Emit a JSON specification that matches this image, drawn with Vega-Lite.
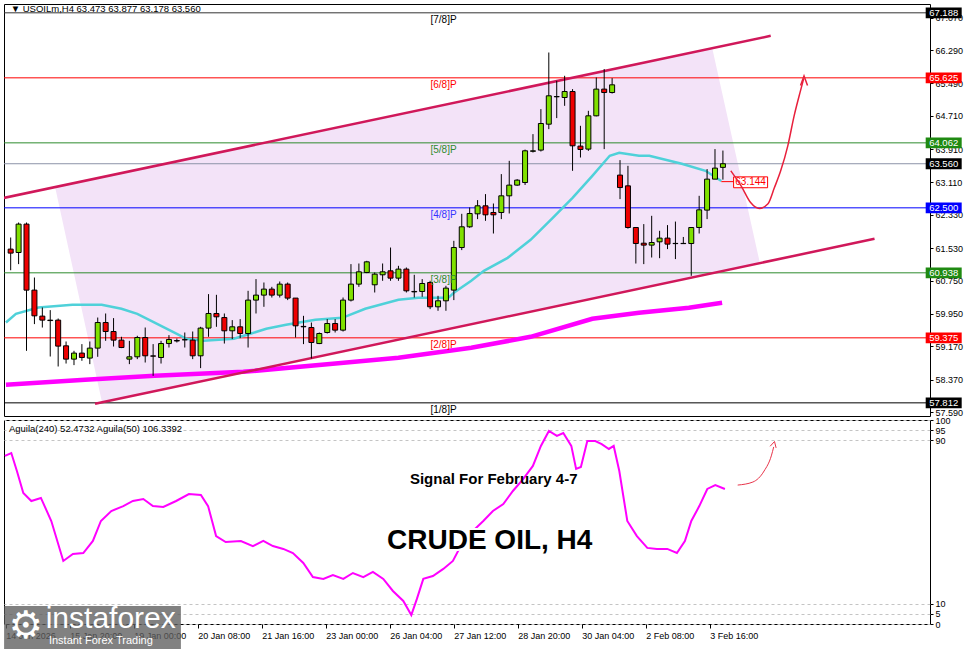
{
"$schema": "https://vega.github.io/schema/vega-lite/v6.json",
"autosize": {"type": "pad"},
"padding": {"left": 3, "top": 3, "right": 47, "bottom": 27},
"background": "#ffffff",
"spacing": 4,
"bounds": "flush",
"config": {
  "view": {"stroke": "#000000", "strokeWidth": 1},
  "axis": {"labelFont": "Liberation Sans", "labelColor": "#000000", "tickColor": "#000000", "labelFontSize": 9},
  "text": {"font": "Liberation Sans"}
},
"datasets": {
  "one": [{}],
  "candles": [
    {"i":0,"o":61.508,"h":61.787,"l":61.0,"c":61.412},
    {"i":1,"o":61.426,"h":62.147,"l":61.147,"c":62.109},
    {"i":2,"o":62.109,"h":62.147,"l":59.063,"c":60.522},
    {"i":3,"o":60.522,"h":60.825,"l":59.705,"c":59.904},
    {"i":4,"o":59.897,"h":60.104,"l":59.623,"c":59.801},
    {"i":5,"o":59.8,"h":60.041,"l":58.926,"c":59.79},
    {"i":6,"o":59.801,"h":59.84,"l":58.686,"c":59.176},
    {"i":7,"o":59.183,"h":59.287,"l":58.757,"c":58.863},
    {"i":8,"o":58.863,"h":59.063,"l":58.719,"c":59.008},
    {"i":9,"o":59.008,"h":59.224,"l":58.823,"c":58.902},
    {"i":10,"o":58.888,"h":59.287,"l":58.743,"c":59.128},
    {"i":11,"o":59.128,"h":59.863,"l":58.919,"c":59.743},
    {"i":12,"o":59.743,"h":59.96,"l":59.303,"c":59.527},
    {"i":13,"o":59.527,"h":59.849,"l":59.166,"c":59.32},
    {"i":14,"o":59.32,"h":59.4,"l":59.128,"c":59.142},
    {"i":15,"o":58.863,"h":59.303,"l":58.743,"c":58.919},
    {"i":16,"o":58.919,"h":59.424,"l":58.863,"c":59.383},
    {"i":17,"o":59.383,"h":59.623,"l":58.782,"c":58.943},
    {"i":18,"o":58.94,"h":59.224,"l":58.462,"c":58.935},
    {"i":19,"o":58.902,"h":59.303,"l":58.757,"c":59.238},
    {"i":20,"o":59.238,"h":59.44,"l":59.142,"c":59.335},
    {"i":21,"o":59.31,"h":59.359,"l":59.263,"c":59.3},
    {"i":22,"o":59.33,"h":59.503,"l":59.142,"c":59.327},
    {"i":23,"o":59.32,"h":59.527,"l":58.863,"c":58.943},
    {"i":24,"o":58.943,"h":59.64,"l":58.647,"c":59.609},
    {"i":25,"o":59.609,"h":60.426,"l":59.4,"c":59.96},
    {"i":26,"o":59.96,"h":60.409,"l":59.64,"c":59.88},
    {"i":27,"o":59.863,"h":59.96,"l":59.238,"c":59.544},
    {"i":28,"o":59.544,"h":59.801,"l":59.344,"c":59.64},
    {"i":29,"o":59.64,"h":59.825,"l":59.368,"c":59.479},
    {"i":30,"o":59.479,"h":60.505,"l":59.142,"c":60.282},
    {"i":31,"o":60.282,"h":60.787,"l":59.96,"c":60.402},
    {"i":32,"o":60.402,"h":60.705,"l":60.121,"c":60.546},
    {"i":33,"o":60.546,"h":60.601,"l":60.344,"c":60.402},
    {"i":34,"o":60.402,"h":60.729,"l":60.344,"c":60.666},
    {"i":35,"o":60.666,"h":60.705,"l":60.282,"c":60.33},
    {"i":36,"o":60.33,"h":60.33,"l":59.383,"c":59.664},
    {"i":37,"o":59.65,"h":59.904,"l":59.224,"c":59.64},
    {"i":38,"o":59.623,"h":59.743,"l":58.878,"c":59.263},
    {"i":39,"o":59.238,"h":59.503,"l":59.224,"c":59.479},
    {"i":40,"o":59.503,"h":59.825,"l":59.479,"c":59.719},
    {"i":41,"o":59.719,"h":59.825,"l":59.503,"c":59.56},
    {"i":42,"o":59.56,"h":60.344,"l":59.527,"c":60.282},
    {"i":43,"o":60.282,"h":61.147,"l":60.249,"c":60.666},
    {"i":44,"o":60.666,"h":61.162,"l":60.601,"c":60.962},
    {"i":45,"o":60.946,"h":61.226,"l":60.93,"c":61.202},
    {"i":46,"o":60.65,"h":60.946,"l":60.465,"c":60.906},
    {"i":47,"o":60.89,"h":61.162,"l":60.746,"c":60.962},
    {"i":48,"o":60.986,"h":61.546,"l":60.746,"c":60.81},
    {"i":49,"o":60.81,"h":61.106,"l":60.746,"c":61.027},
    {"i":50,"o":61.027,"h":61.066,"l":60.465,"c":60.505},
    {"i":51,"o":60.49,"h":60.89,"l":60.344,"c":60.48},
    {"i":52,"o":60.489,"h":60.787,"l":60.361,"c":60.681},
    {"i":53,"o":60.705,"h":60.746,"l":60.065,"c":60.121},
    {"i":54,"o":60.121,"h":60.385,"l":60.025,"c":60.265},
    {"i":55,"o":60.265,"h":60.626,"l":60.025,"c":60.57},
    {"i":56,"o":60.522,"h":61.707,"l":60.282,"c":61.546},
    {"i":57,"o":61.546,"h":62.356,"l":61.484,"c":62.044},
    {"i":58,"o":62.044,"h":62.508,"l":62.02,"c":62.364},
    {"i":59,"o":62.356,"h":62.686,"l":62.229,"c":62.549},
    {"i":60,"o":62.549,"h":62.83,"l":62.188,"c":62.332},
    {"i":61,"o":62.388,"h":62.604,"l":61.883,"c":62.332},
    {"i":62,"o":62.388,"h":63.311,"l":62.229,"c":62.789},
    {"i":63,"o":62.789,"h":63.63,"l":62.364,"c":63.046},
    {"i":64,"o":63.046,"h":63.19,"l":63.03,"c":63.166},
    {"i":65,"o":63.109,"h":63.9,"l":63.05,"c":63.871},
    {"i":66,"o":63.86,"h":64.272,"l":63.83,"c":63.87},
    {"i":67,"o":63.888,"h":64.873,"l":63.854,"c":64.527},
    {"i":68,"o":64.511,"h":66.234,"l":64.392,"c":65.193},
    {"i":69,"o":65.17,"h":65.553,"l":64.657,"c":65.175},
    {"i":70,"o":65.152,"h":65.674,"l":64.952,"c":65.296},
    {"i":71,"o":65.296,"h":65.354,"l":63.39,"c":63.991},
    {"i":72,"o":63.984,"h":64.472,"l":63.71,"c":63.902},
    {"i":73,"o":63.912,"h":64.832,"l":63.87,"c":64.712},
    {"i":74,"o":64.712,"h":65.633,"l":64.7,"c":65.354},
    {"i":75,"o":65.354,"h":65.835,"l":63.912,"c":65.272},
    {"i":76,"o":65.272,"h":65.618,"l":65.248,"c":65.457},
    {"i":77,"o":63.287,"h":63.647,"l":62.71,"c":62.988},
    {"i":78,"o":63.029,"h":63.51,"l":62.0,"c":62.027},
    {"i":79,"o":62.027,"h":62.03,"l":61.161,"c":61.642},
    {"i":80,"o":61.65,"h":62.109,"l":61.147,"c":61.604},
    {"i":81,"o":61.604,"h":62.308,"l":61.306,"c":61.666},
    {"i":82,"o":61.683,"h":61.948,"l":61.29,"c":61.772},
    {"i":83,"o":61.772,"h":62.085,"l":61.508,"c":61.628},
    {"i":84,"o":61.64,"h":62.17,"l":61.268,"c":61.645},
    {"i":85,"o":61.64,"h":61.8,"l":61.63,"c":61.645},
    {"i":86,"o":61.642,"h":62.03,"l":60.866,"c":62.027},
    {"i":87,"o":62.027,"h":62.789,"l":61.883,"c":62.452},
    {"i":88,"o":62.445,"h":63.431,"l":62.229,"c":63.19},
    {"i":89,"o":63.19,"h":63.912,"l":63.19,"c":63.455},
    {"i":90,"o":63.473,"h":63.877,"l":63.178,"c":63.56}
  ],
  "ma50": [
    {"i":-0.6,"p":59.743},{"i":0.66,"p":59.952},{"i":3.5,"p":60.104},{"i":7.8,"p":60.169},{"i":11.5,"p":60.169},
    {"i":14,"p":60.073},{"i":16,"p":59.952},{"i":18.5,"p":59.712},{"i":21,"p":59.472},{"i":22.2,"p":59.352},
    {"i":24.4,"p":59.303},{"i":28.2,"p":59.352},{"i":30.3,"p":59.472},{"i":32.3,"p":59.592},{"i":34.8,"p":59.688},
    {"i":38.5,"p":59.808},{"i":41.9,"p":59.856},{"i":44.8,"p":60.073},{"i":49,"p":60.289},{"i":51.5,"p":60.337},
    {"i":55.3,"p":60.337},{"i":56,"p":60.457},{"i":58.2,"p":60.746},{"i":59.8,"p":60.986},{"i":62.8,"p":61.298},
    {"i":65.7,"p":61.731},{"i":68.5,"p":62.26},{"i":71,"p":62.741},{"i":73.5,"p":63.27},{"i":75.7,"p":63.751},
    {"i":76.9,"p":63.823},{"i":79.4,"p":63.751},{"i":80.7,"p":63.751},{"i":84.8,"p":63.558},{"i":87.8,"p":63.39},
    {"i":89.8,"p":63.144}
  ],
  "ma200": [
    {"i":-0.6,"p":58.246},{"i":9.4,"p":58.366},{"i":18.2,"p":58.462},{"i":29.4,"p":58.558},{"i":40.7,"p":58.75},
    {"i":49,"p":58.895},{"i":58.2,"p":59.135},{"i":65.7,"p":59.4},{"i":73.5,"p":59.832},{"i":79.4,"p":59.976},
    {"i":85.7,"p":60.097},{"i":89.9,"p":60.217}
  ],
  "channel": [
    {"ln":"upper","i":-1.0,"p":62.733},{"ln":"upper","i":96.04,"p":66.635},
    {"ln":"lower","i":10.66,"p":57.789},{"ln":"lower","i":109.16,"p":61.755}
  ],
  "poly": [
    {"i":5.59,"top":63.02,"bot":63.02},
    {"i":11.54,"top":63.236,"bot":57.825},
    {"i":88.66,"top":66.332,"bot":60.931},
    {"i":94.66,"top":61.183,"bot":61.183}
  ],
  "levels": [
    {"name":"[7/8]P","p":67.188},{"name":"[6/8]P","p":65.625},{"name":"[5/8]P","p":64.062},
    {"name":"[4/8]P","p":62.5},{"name":"[3/8]P","p":60.938},{"name":"[2/8]P","p":59.375},
    {"name":"[1/8]P","p":57.812},{"name":"last","p":63.56}
  ],
  "arrow": [
    {"i":91.0,"p":63.39},{"i":92.3,"p":63.029},{"i":93.5,"p":62.628},{"i":94.6,"p":62.484},{"i":95.7,"p":62.597},
    {"i":96.5,"p":62.981},{"i":97.3,"p":63.39},{"i":98.2,"p":63.991},{"i":99.0,"p":64.712},{"i":99.8,"p":65.313},
    {"i":100.2,"p":65.601}
  ],
  "aguila": [
    {"i":-0.1,"v":82.4},{"i":0.7,"v":83.8},{"i":1.4,"v":75.0},{"i":2.2,"v":64.2},{"i":3.2,"v":60.3},{"i":4.4,"v":61.8},
    {"i":5.7,"v":50.5},{"i":7.2,"v":30.9},{"i":8.4,"v":34.3},{"i":9.7,"v":34.8},{"i":10.9,"v":40.7},{"i":11.9,"v":50.5},
    {"i":13.2,"v":55.4},{"i":14.7,"v":57.8},{"i":15.9,"v":60.3},{"i":17.2,"v":61.3},{"i":18.4,"v":57.8},{"i":19.7,"v":57.4},
    {"i":21.3,"v":60.3},{"i":22.9,"v":63.7},{"i":24.4,"v":63.2},{"i":25.3,"v":57.8},{"i":26.3,"v":43.1},{"i":27.5,"v":40.2},
    {"i":29.4,"v":40.7},{"i":30.9,"v":38.2},{"i":32.2,"v":40.7},{"i":33.4,"v":38.2},{"i":34.7,"v":36.8},{"i":35.9,"v":34.8},
    {"i":37.2,"v":29.9},{"i":38.4,"v":23.0},{"i":39.7,"v":22.1},{"i":40.9,"v":24.0},{"i":42.2,"v":22.1},{"i":43.4,"v":25.0},
    {"i":44.7,"v":23.0},{"i":45.9,"v":25.5},{"i":47.2,"v":22.1},{"i":48.4,"v":16.2},{"i":49.7,"v":11.3},{"i":50.7,"v":4.4},
    {"i":51.4,"v":12.3},{"i":52.2,"v":22.1},{"i":53.4,"v":23.5},{"i":54.7,"v":27.0},{"i":55.9,"v":30.9},{"i":57.2,"v":40.7},
    {"i":58.4,"v":45.6},{"i":59.7,"v":50.5},{"i":60.9,"v":55.4},{"i":62.2,"v":58.8},{"i":63.4,"v":65.2},{"i":64.7,"v":71.1},
    {"i":65.9,"v":77.5},{"i":66.9,"v":87.3},{"i":67.9,"v":94.6},{"i":68.9,"v":92.2},{"i":69.7,"v":93.6},{"i":70.7,"v":87.3},
    {"i":71.3,"v":76.0},{"i":71.9,"v":77.0},{"i":72.7,"v":89.7},{"i":73.7,"v":89.7},{"i":74.5,"v":88.2},{"i":75.4,"v":85.8},
    {"i":76.0,"v":87.3},{"i":76.7,"v":75.0},{"i":77.7,"v":50.5},{"i":78.9,"v":43.1},{"i":80.2,"v":37.3},{"i":81.4,"v":36.8},
    {"i":82.7,"v":36.8},{"i":83.9,"v":34.8},{"i":84.9,"v":40.7},{"i":85.7,"v":50.5},{"i":86.7,"v":57.8},{"i":87.7,"v":66.2},
    {"i":88.7,"v":68.1},{"i":89.9,"v":66.2}
  ],
  "arrow2": [
    {"i":91.5,"v":68.1},{"i":93.4,"v":69.6},{"i":94.8,"v":75.0},{"i":95.7,"v":82.4},{"i":96.0,"v":86.8}
  ]
},
"vconcat": [
  {
    "width": 926,
    "height": 412,
    "resolve": {"scale": {"color": "independent"}},
    "layer": [
      {
        "data": {"name": "poly"},
        "mark": {"type": "area", "color": "#f3e3f8", "interpolate": "linear"},
        "encoding": {
          "x": {"field": "i", "type": "quantitative", "scale": {"domain": [-0.2125, 115.5375], "nice": false, "zero": false}, "axis": null},
          "y": {"field": "top", "type": "quantitative", "scale": {"domain": [57.496, 67.4], "nice": false, "zero": false},
                "axis": {"orient": "right", "values": [57.59, 58.37, 59.17, 59.95, 60.75, 61.53, 62.33, 63.11, 63.91, 64.71, 65.49, 66.29, 67.07], "format": ".3f", "title": null, "grid": false, "domain": false, "tickSize": 3, "labelPadding": 2, "labelOverlap": false, "labelBound": false}},
          "y2": {"field": "bot"}
        }
      },
      {
        "data": {"name": "levels"},
        "mark": {"type": "rule", "strokeWidth": 1},
        "encoding": {
          "y": {"field": "p", "type": "quantitative", "scale": {"domain": [57.496, 67.4], "nice": false, "zero": false},
                "axis": {"orient": "right", "values": [57.59, 58.37, 59.17, 59.95, 60.75, 61.53, 62.33, 63.11, 63.91, 64.71, 65.49, 66.29, 67.07], "format": ".3f", "title": null, "grid": false, "domain": false, "tickSize": 3, "labelPadding": 2, "labelOverlap": false, "labelBound": false}},
          "color": {"field": "name", "type": "nominal", "legend": null,
                    "scale": {"domain": ["[7/8]P","[6/8]P","[5/8]P","[4/8]P","[3/8]P","[2/8]P","[1/8]P","last"],
                              "range": ["#333333","#ff0000","#2e8b2e","#0000ff","#2e8b2e","#ff0000","#000000","#8d93a8"]}}
        }
      },
      {
        "data": {"name": "ma200"},
        "mark": {"type": "line", "color": "#ff00ff", "strokeWidth": 4.5, "clip": true},
        "encoding": {
          "x": {"field": "i", "type": "quantitative", "scale": {"domain": [-0.2125, 115.5375], "nice": false, "zero": false}, "axis": null},
          "y": {"field": "p", "type": "quantitative", "scale": {"domain": [57.496, 67.4], "nice": false, "zero": false},
                "axis": {"orient": "right", "values": [57.59, 58.37, 59.17, 59.95, 60.75, 61.53, 62.33, 63.11, 63.91, 64.71, 65.49, 66.29, 67.07], "format": ".3f", "title": null, "grid": false, "domain": false, "tickSize": 3, "labelPadding": 2, "labelOverlap": false, "labelBound": false}}
        }
      },
      {
        "data": {"name": "ma50"},
        "mark": {"type": "line", "color": "#4fd1d9", "strokeWidth": 2.5, "clip": true},
        "encoding": {
          "x": {"field": "i", "type": "quantitative", "scale": {"domain": [-0.2125, 115.5375], "nice": false, "zero": false}, "axis": null},
          "y": {"field": "p", "type": "quantitative", "scale": {"domain": [57.496, 67.4], "nice": false, "zero": false},
                "axis": {"orient": "right", "values": [57.59, 58.37, 59.17, 59.95, 60.75, 61.53, 62.33, 63.11, 63.91, 64.71, 65.49, 66.29, 67.07], "format": ".3f", "title": null, "grid": false, "domain": false, "tickSize": 3, "labelPadding": 2, "labelOverlap": false, "labelBound": false}}
        }
      },
      {
        "data": {"name": "channel"},
        "mark": {"type": "line", "color": "#d0185a", "strokeWidth": 2.5, "clip": true},
        "encoding": {
          "x": {"field": "i", "type": "quantitative", "scale": {"domain": [-0.2125, 115.5375], "nice": false, "zero": false}, "axis": null},
          "y": {"field": "p", "type": "quantitative", "scale": {"domain": [57.496, 67.4], "nice": false, "zero": false},
                "axis": {"orient": "right", "values": [57.59, 58.37, 59.17, 59.95, 60.75, 61.53, 62.33, 63.11, 63.91, 64.71, 65.49, 66.29, 67.07], "format": ".3f", "title": null, "grid": false, "domain": false, "tickSize": 3, "labelPadding": 2, "labelOverlap": false, "labelBound": false}},
          "detail": {"field": "ln", "type": "nominal"}
        }
      },
      {
        "data": {"name": "candles"},
        "mark": {"type": "rule", "color": "#000000", "strokeWidth": 1},
        "encoding": {
          "x": {"field": "i", "type": "quantitative", "scale": {"domain": [-0.2125, 115.5375], "nice": false, "zero": false}, "axis": null},
          "y": {"field": "l", "type": "quantitative", "scale": {"domain": [57.496, 67.4], "nice": false, "zero": false},
                "axis": {"orient": "right", "values": [57.59, 58.37, 59.17, 59.95, 60.75, 61.53, 62.33, 63.11, 63.91, 64.71, 65.49, 66.29, 67.07], "format": ".3f", "title": null, "grid": false, "domain": false, "tickSize": 3, "labelPadding": 2, "labelOverlap": false, "labelBound": false}},
          "y2": {"field": "h"}
        }
      },
      {
        "data": {"name": "candles"},
        "mark": {"type": "bar", "size": 5, "stroke": "#000000", "strokeWidth": 1},
        "encoding": {
          "x": {"field": "i", "type": "quantitative", "scale": {"domain": [-0.2125, 115.5375], "nice": false, "zero": false}, "axis": null},
          "y": {"field": "o", "type": "quantitative", "scale": {"domain": [57.496, 67.4], "nice": false, "zero": false},
                "axis": {"orient": "right", "values": [57.59, 58.37, 59.17, 59.95, 60.75, 61.53, 62.33, 63.11, 63.91, 64.71, 65.49, 66.29, 67.07], "format": ".3f", "title": null, "grid": false, "domain": false, "tickSize": 3, "labelPadding": 2, "labelOverlap": false, "labelBound": false}},
          "y2": {"field": "c"},
          "color": {"condition": {"test": "datum.c >= datum.o", "value": "#80e000"}, "value": "#ee0000"}
        }
      },
      {
        "data": {"name": "levels"},
        "transform": [{"filter": "datum.name != 'last'"}],
        "mark": {"type": "text", "baseline": "top", "dy": 2, "fontSize": 10, "align": "center"},
        "encoding": {
          "x": {"datum": 54.7, "type": "quantitative", "scale": {"domain": [-0.2125, 115.5375], "nice": false, "zero": false}, "axis": null},
          "y": {"field": "p", "type": "quantitative", "scale": {"domain": [57.496, 67.4], "nice": false, "zero": false},
                "axis": {"orient": "right", "values": [57.59, 58.37, 59.17, 59.95, 60.75, 61.53, 62.33, 63.11, 63.91, 64.71, 65.49, 66.29, 67.07], "format": ".3f", "title": null, "grid": false, "domain": false, "tickSize": 3, "labelPadding": 2, "labelOverlap": false, "labelBound": false}},
          "text": {"field": "name"},
          "color": {"field": "name", "type": "nominal", "legend": null,
                    "scale": {"domain": ["[7/8]P","[6/8]P","[5/8]P","[4/8]P","[3/8]P","[2/8]P","[1/8]P"],
                              "range": ["#000000","#ff0000","#2e8b2e","#3333ff","#2e8b2e","#ff0000","#000000"]}}
        }
      },
      {
        "data": {"name": "levels"},
        "mark": {"type": "point", "shape": "M-1,-0.3H1V0.3H-1Z", "filled": true, "opacity": 1, "size": 1296, "clip": false},
        "encoding": {
          "x": {"datum": 117.9, "type": "quantitative", "scale": {"domain": [-0.2125, 115.5375], "nice": false, "zero": false}, "axis": null},
          "y": {"field": "p", "type": "quantitative", "scale": {"domain": [57.496, 67.4], "nice": false, "zero": false},
                "axis": {"orient": "right", "values": [57.59, 58.37, 59.17, 59.95, 60.75, 61.53, 62.33, 63.11, 63.91, 64.71, 65.49, 66.29, 67.07], "format": ".3f", "title": null, "grid": false, "domain": false, "tickSize": 3, "labelPadding": 2, "labelOverlap": false, "labelBound": false}},
          "color": {"field": "name", "type": "nominal", "legend": null,
                    "scale": {"domain": ["[7/8]P","[6/8]P","[5/8]P","[4/8]P","[3/8]P","[2/8]P","[1/8]P","last"],
                              "range": ["#000000","#ff0000","#1f8a12","#0000ff","#1f8a12","#ff0000","#000000","#000000"]}}
        }
      },
      {
        "data": {"name": "levels"},
        "mark": {"type": "text", "color": "#ffffff", "fontSize": 9.5, "align": "center", "baseline": "middle", "clip": false},
        "encoding": {
          "x": {"datum": 117.9, "type": "quantitative", "scale": {"domain": [-0.2125, 115.5375], "nice": false, "zero": false}, "axis": null},
          "y": {"field": "p", "type": "quantitative", "scale": {"domain": [57.496, 67.4], "nice": false, "zero": false},
                "axis": {"orient": "right", "values": [57.59, 58.37, 59.17, 59.95, 60.75, 61.53, 62.33, 63.11, 63.91, 64.71, 65.49, 66.29, 67.07], "format": ".3f", "title": null, "grid": false, "domain": false, "tickSize": 3, "labelPadding": 2, "labelOverlap": false, "labelBound": false}},
          "text": {"field": "p", "format": ".3f"}
        }
      },
      {
        "data": {"name": "one"},
        "mark": {"type": "rule", "color": "#ff0000", "strokeWidth": 1},
        "encoding": {
          "x": {"datum": 89.8, "type": "quantitative", "scale": {"domain": [-0.2125, 115.5375], "nice": false, "zero": false}, "axis": null},
          "x2": {"datum": 91.5},
          "y": {"datum": 63.13, "type": "quantitative", "scale": {"domain": [57.496, 67.4], "nice": false, "zero": false},
                "axis": {"orient": "right", "values": [57.59, 58.37, 59.17, 59.95, 60.75, 61.53, 62.33, 63.11, 63.91, 64.71, 65.49, 66.29, 67.07], "format": ".3f", "title": null, "grid": false, "domain": false, "tickSize": 3, "labelPadding": 2, "labelOverlap": false, "labelBound": false}}
        }
      },
      {
        "data": {"name": "one"},
        "mark": {"type": "point", "shape": "M-1,-0.32H1V0.32H-1Z", "filled": false, "fill": "#ffffff", "stroke": "#ff0000", "strokeWidth": 1, "opacity": 1, "size": 1156},
        "encoding": {
          "x": {"datum": 93.5, "type": "quantitative", "scale": {"domain": [-0.2125, 115.5375], "nice": false, "zero": false}, "axis": null},
          "y": {"datum": 63.114, "type": "quantitative", "scale": {"domain": [57.496, 67.4], "nice": false, "zero": false},
                "axis": {"orient": "right", "values": [57.59, 58.37, 59.17, 59.95, 60.75, 61.53, 62.33, 63.11, 63.91, 64.71, 65.49, 66.29, 67.07], "format": ".3f", "title": null, "grid": false, "domain": false, "tickSize": 3, "labelPadding": 2, "labelOverlap": false, "labelBound": false}}
        }
      },
      {
        "data": {"name": "one"},
        "mark": {"type": "text", "color": "#ff0000", "fontSize": 10, "align": "center", "baseline": "middle"},
        "encoding": {
          "x": {"datum": 93.5, "type": "quantitative", "scale": {"domain": [-0.2125, 115.5375], "nice": false, "zero": false}, "axis": null},
          "y": {"datum": 63.114, "type": "quantitative", "scale": {"domain": [57.496, 67.4], "nice": false, "zero": false},
                "axis": {"orient": "right", "values": [57.59, 58.37, 59.17, 59.95, 60.75, 61.53, 62.33, 63.11, 63.91, 64.71, 65.49, 66.29, 67.07], "format": ".3f", "title": null, "grid": false, "domain": false, "tickSize": 3, "labelPadding": 2, "labelOverlap": false, "labelBound": false}},
          "text": {"value": "63.144"}
        }
      },
      {
        "data": {"name": "arrow"},
        "mark": {"type": "line", "color": "#e8203c", "strokeWidth": 1.5, "interpolate": "monotone"},
        "encoding": {
          "x": {"field": "i", "type": "quantitative", "scale": {"domain": [-0.2125, 115.5375], "nice": false, "zero": false}, "axis": null},
          "y": {"field": "p", "type": "quantitative", "scale": {"domain": [57.496, 67.4], "nice": false, "zero": false},
                "axis": {"orient": "right", "values": [57.59, 58.37, 59.17, 59.95, 60.75, 61.53, 62.33, 63.11, 63.91, 64.71, 65.49, 66.29, 67.07], "format": ".3f", "title": null, "grid": false, "domain": false, "tickSize": 3, "labelPadding": 2, "labelOverlap": false, "labelBound": false}}
        }
      },
      {
        "data": {"name": "one"},
        "mark": {"type": "point", "shape": "M-0.7,0.9L0,-1L0.7,0.9", "filled": false, "stroke": "#e8203c", "strokeWidth": 1.5, "opacity": 1, "size": 100},
        "encoding": {
          "x": {"datum": 100.25, "type": "quantitative", "scale": {"domain": [-0.2125, 115.5375], "nice": false, "zero": false}, "axis": null},
          "y": {"datum": 65.55, "type": "quantitative", "scale": {"domain": [57.496, 67.4], "nice": false, "zero": false},
                "axis": {"orient": "right", "values": [57.59, 58.37, 59.17, 59.95, 60.75, 61.53, 62.33, 63.11, 63.91, 64.71, 65.49, 66.29, 67.07], "format": ".3f", "title": null, "grid": false, "domain": false, "tickSize": 3, "labelPadding": 2, "labelOverlap": false, "labelBound": false}}
        }
      },
      {
        "data": {"name": "one"},
        "mark": {"type": "text", "color": "#000000", "fontSize": 9.5, "align": "left", "baseline": "middle"},
        "encoding": {
          "x": {"datum": 0.0, "type": "quantitative", "scale": {"domain": [-0.2125, 115.5375], "nice": false, "zero": false}, "axis": null},
          "y": {"datum": 67.29, "type": "quantitative", "scale": {"domain": [57.496, 67.4], "nice": false, "zero": false},
                "axis": {"orient": "right", "values": [57.59, 58.37, 59.17, 59.95, 60.75, 61.53, 62.33, 63.11, 63.91, 64.71, 65.49, 66.29, 67.07], "format": ".3f", "title": null, "grid": false, "domain": false, "tickSize": 3, "labelPadding": 2, "labelOverlap": false, "labelBound": false}},
          "text": {"value": "▼ USOILm,H4  63.473 63.877 63.178 63.560"}
        }
      }
    ]
  },
  {
    "width": 926,
    "height": 204,
    "layer": [
      {
        "data": {"name": "aguila"},
        "mark": {"type": "line", "color": "#ff00ff", "strokeWidth": 2, "clip": true},
        "encoding": {
          "x": {"field": "i", "type": "quantitative", "scale": {"domain": [-0.2125, 115.5375], "nice": false, "zero": false},
                "axis": {"values": [0, 8, 16, 24, 32, 40, 48, 56, 64, 72, 80, 88], "labelExpr": "['14 Jan 2026','15 Jan 20:00','19 Jan 00:00','20 Jan 08:00','21 Jan 16:00','23 Jan 00:00','26 Jan 04:00','27 Jan 12:00','28 Jan 20:00','30 Jan 04:00','2 Feb 08:00','3 Feb 16:00'][round(datum.value / 8)]", "labelAlign": "left", "labelPadding": 3, "tickSize": 4, "domain": false, "grid": false, "title": null, "labelOverlap": false, "labelBound": false}},
          "y": {"field": "v", "type": "quantitative", "scale": {"domain": [0, 100], "nice": false, "zero": false},
                "axis": {"orient": "right", "values": [0, 5, 10, 90, 95, 100], "title": null, "grid": true, "gridDash": [3, 3], "gridColor": "#c4c4c4", "domain": false, "tickSize": 3, "labelPadding": 2, "labelOverlap": false, "labelBound": false}}
        }
      },
      {
        "data": {"name": "arrow2"},
        "mark": {"type": "line", "color": "#e8344a", "strokeWidth": 1, "interpolate": "monotone"},
        "encoding": {
          "x": {"field": "i", "type": "quantitative", "scale": {"domain": [-0.2125, 115.5375], "nice": false, "zero": false},
                "axis": {"values": [0, 8, 16, 24, 32, 40, 48, 56, 64, 72, 80, 88], "labelExpr": "['14 Jan 2026','15 Jan 20:00','19 Jan 00:00','20 Jan 08:00','21 Jan 16:00','23 Jan 00:00','26 Jan 04:00','27 Jan 12:00','28 Jan 20:00','30 Jan 04:00','2 Feb 08:00','3 Feb 16:00'][round(datum.value / 8)]", "labelAlign": "left", "labelPadding": 3, "tickSize": 4, "domain": false, "grid": false, "title": null, "labelOverlap": false, "labelBound": false}},
          "y": {"field": "v", "type": "quantitative", "scale": {"domain": [0, 100], "nice": false, "zero": false},
                "axis": {"orient": "right", "values": [0, 5, 10, 90, 95, 100], "title": null, "grid": true, "gridDash": [3, 3], "gridColor": "#c4c4c4", "domain": false, "tickSize": 3, "labelPadding": 2, "labelOverlap": false, "labelBound": false}}
        }
      },
      {
        "data": {"name": "one"},
        "mark": {"type": "point", "shape": "M-0.9,0.2L0.2,-1L0.6,0.6", "filled": false, "stroke": "#e8344a", "strokeWidth": 1, "opacity": 1, "size": 64},
        "encoding": {
          "x": {"datum": 96.0, "type": "quantitative", "scale": {"domain": [-0.2125, 115.5375], "nice": false, "zero": false},
                "axis": {"values": [0, 8, 16, 24, 32, 40, 48, 56, 64, 72, 80, 88], "labelExpr": "['14 Jan 2026','15 Jan 20:00','19 Jan 00:00','20 Jan 08:00','21 Jan 16:00','23 Jan 00:00','26 Jan 04:00','27 Jan 12:00','28 Jan 20:00','30 Jan 04:00','2 Feb 08:00','3 Feb 16:00'][round(datum.value / 8)]", "labelAlign": "left", "labelPadding": 3, "tickSize": 4, "domain": false, "grid": false, "title": null, "labelOverlap": false, "labelBound": false}},
          "y": {"datum": 87.5, "type": "quantitative", "scale": {"domain": [0, 100], "nice": false, "zero": false},
                "axis": {"orient": "right", "values": [0, 5, 10, 90, 95, 100], "title": null, "grid": true, "gridDash": [3, 3], "gridColor": "#c4c4c4", "domain": false, "tickSize": 3, "labelPadding": 2, "labelOverlap": false, "labelBound": false}}
        }
      },
      {
        "data": {"name": "one"},
        "mark": {"type": "text", "color": "#000000", "fontSize": 9.5, "align": "left", "baseline": "middle"},
        "encoding": {
          "x": {"datum": 0.4, "type": "quantitative", "scale": {"domain": [-0.2125, 115.5375], "nice": false, "zero": false},
                "axis": {"values": [0, 8, 16, 24, 32, 40, 48, 56, 64, 72, 80, 88], "labelExpr": "['14 Jan 2026','15 Jan 20:00','19 Jan 00:00','20 Jan 08:00','21 Jan 16:00','23 Jan 00:00','26 Jan 04:00','27 Jan 12:00','28 Jan 20:00','30 Jan 04:00','2 Feb 08:00','3 Feb 16:00'][round(datum.value / 8)]", "labelAlign": "left", "labelPadding": 3, "tickSize": 4, "domain": false, "grid": false, "title": null, "labelOverlap": false, "labelBound": false}},
          "y": {"datum": 95.6, "type": "quantitative", "scale": {"domain": [0, 100], "nice": false, "zero": false},
                "axis": {"orient": "right", "values": [0, 5, 10, 90, 95, 100], "title": null, "grid": true, "gridDash": [3, 3], "gridColor": "#c4c4c4", "domain": false, "tickSize": 3, "labelPadding": 2, "labelOverlap": false, "labelBound": false}},
          "text": {"value": "Aguila(240) 52.4732  Aguila(50) 106.3392"}
        }
      },
      {
        "data": {"name": "one"},
        "mark": {"type": "text", "color": "#000000", "fontSize": 15, "fontWeight": "bold", "align": "center", "baseline": "middle"},
        "encoding": {
          "x": {"datum": 61.0, "type": "quantitative", "scale": {"domain": [-0.2125, 115.5375], "nice": false, "zero": false},
                "axis": {"values": [0, 8, 16, 24, 32, 40, 48, 56, 64, 72, 80, 88], "labelExpr": "['14 Jan 2026','15 Jan 20:00','19 Jan 00:00','20 Jan 08:00','21 Jan 16:00','23 Jan 00:00','26 Jan 04:00','27 Jan 12:00','28 Jan 20:00','30 Jan 04:00','2 Feb 08:00','3 Feb 16:00'][round(datum.value / 8)]", "labelAlign": "left", "labelPadding": 3, "tickSize": 4, "domain": false, "grid": false, "title": null, "labelOverlap": false, "labelBound": false}},
          "y": {"datum": 71.1, "type": "quantitative", "scale": {"domain": [0, 100], "nice": false, "zero": false},
                "axis": {"orient": "right", "values": [0, 5, 10, 90, 95, 100], "title": null, "grid": true, "gridDash": [3, 3], "gridColor": "#c4c4c4", "domain": false, "tickSize": 3, "labelPadding": 2, "labelOverlap": false, "labelBound": false}},
          "text": {"value": "Signal For February 4-7"}
        }
      },
      {
        "data": {"name": "one"},
        "mark": {"type": "text", "color": "#ffffff", "stroke": "#ffffff", "strokeWidth": 4, "fontSize": 28, "fontWeight": "bold", "align": "center", "baseline": "middle"},
        "encoding": {
          "x": {"datum": 60.5, "type": "quantitative", "scale": {"domain": [-0.2125, 115.5375], "nice": false, "zero": false},
                "axis": {"values": [0, 8, 16, 24, 32, 40, 48, 56, 64, 72, 80, 88], "labelExpr": "['14 Jan 2026','15 Jan 20:00','19 Jan 00:00','20 Jan 08:00','21 Jan 16:00','23 Jan 00:00','26 Jan 04:00','27 Jan 12:00','28 Jan 20:00','30 Jan 04:00','2 Feb 08:00','3 Feb 16:00'][round(datum.value / 8)]", "labelAlign": "left", "labelPadding": 3, "tickSize": 4, "domain": false, "grid": false, "title": null, "labelOverlap": false, "labelBound": false}},
          "y": {"datum": 40.7, "type": "quantitative", "scale": {"domain": [0, 100], "nice": false, "zero": false},
                "axis": {"orient": "right", "values": [0, 5, 10, 90, 95, 100], "title": null, "grid": true, "gridDash": [3, 3], "gridColor": "#c4c4c4", "domain": false, "tickSize": 3, "labelPadding": 2, "labelOverlap": false, "labelBound": false}},
          "text": {"value": "CRUDE OIL, H4"}
        }
      },
      {
        "data": {"name": "one"},
        "mark": {"type": "text", "color": "#000000", "fontSize": 28, "fontWeight": "bold", "align": "center", "baseline": "middle"},
        "encoding": {
          "x": {"datum": 60.5, "type": "quantitative", "scale": {"domain": [-0.2125, 115.5375], "nice": false, "zero": false},
                "axis": {"values": [0, 8, 16, 24, 32, 40, 48, 56, 64, 72, 80, 88], "labelExpr": "['14 Jan 2026','15 Jan 20:00','19 Jan 00:00','20 Jan 08:00','21 Jan 16:00','23 Jan 00:00','26 Jan 04:00','27 Jan 12:00','28 Jan 20:00','30 Jan 04:00','2 Feb 08:00','3 Feb 16:00'][round(datum.value / 8)]", "labelAlign": "left", "labelPadding": 3, "tickSize": 4, "domain": false, "grid": false, "title": null, "labelOverlap": false, "labelBound": false}},
          "y": {"datum": 40.7, "type": "quantitative", "scale": {"domain": [0, 100], "nice": false, "zero": false},
                "axis": {"orient": "right", "values": [0, 5, 10, 90, 95, 100], "title": null, "grid": true, "gridDash": [3, 3], "gridColor": "#c4c4c4", "domain": false, "tickSize": 3, "labelPadding": 2, "labelOverlap": false, "labelBound": false}},
          "text": {"value": "CRUDE OIL, H4"}
        }
      },
      {
        "data": {"name": "one"},
        "mark": {"type": "rect", "color": "#5e5e5e", "opacity": 0.78, "clip": false},
        "encoding": {
          "x": {"datum": -0.2, "type": "quantitative", "scale": {"domain": [-0.2125, 115.5375], "nice": false, "zero": false},
                "axis": {"values": [0, 8, 16, 24, 32, 40, 48, 56, 64, 72, 80, 88], "labelExpr": "['14 Jan 2026','15 Jan 20:00','19 Jan 00:00','20 Jan 08:00','21 Jan 16:00','23 Jan 00:00','26 Jan 04:00','27 Jan 12:00','28 Jan 20:00','30 Jan 04:00','2 Feb 08:00','3 Feb 16:00'][round(datum.value / 8)]", "labelAlign": "left", "labelPadding": 3, "tickSize": 4, "domain": false, "grid": false, "title": null, "labelOverlap": false, "labelBound": false}},
          "x2": {"datum": 21.9},
          "y": {"datum": 8.8, "type": "quantitative", "scale": {"domain": [0, 100], "nice": false, "zero": false},
                "axis": {"orient": "right", "values": [0, 5, 10, 90, 95, 100], "title": null, "grid": true, "gridDash": [3, 3], "gridColor": "#c4c4c4", "domain": false, "tickSize": 3, "labelPadding": 2, "labelOverlap": false, "labelBound": false}},
          "y2": {"datum": -12.3}
        }
      },
      {
        "data": {"name": "one"},
        "mark": {"type": "text", "color": "#ffffff", "fontSize": 38, "align": "center", "baseline": "middle", "clip": false, "font": "DejaVu Sans"},
        "encoding": {
          "x": {"datum": 2.5, "type": "quantitative", "scale": {"domain": [-0.2125, 115.5375], "nice": false, "zero": false},
                "axis": {"values": [0, 8, 16, 24, 32, 40, 48, 56, 64, 72, 80, 88], "labelExpr": "['14 Jan 2026','15 Jan 20:00','19 Jan 00:00','20 Jan 08:00','21 Jan 16:00','23 Jan 00:00','26 Jan 04:00','27 Jan 12:00','28 Jan 20:00','30 Jan 04:00','2 Feb 08:00','3 Feb 16:00'][round(datum.value / 8)]", "labelAlign": "left", "labelPadding": 3, "tickSize": 4, "domain": false, "grid": false, "title": null, "labelOverlap": false, "labelBound": false}},
          "y": {"datum": -1.5, "type": "quantitative", "scale": {"domain": [0, 100], "nice": false, "zero": false},
                "axis": {"orient": "right", "values": [0, 5, 10, 90, 95, 100], "title": null, "grid": true, "gridDash": [3, 3], "gridColor": "#c4c4c4", "domain": false, "tickSize": 3, "labelPadding": 2, "labelOverlap": false, "labelBound": false}},
          "text": {"value": "⚙"}
        }
      },
      {
        "data": {"name": "one"},
        "mark": {"type": "text", "color": "#ffffff", "fontSize": 30, "align": "left", "baseline": "alphabetic", "clip": false},
        "encoding": {
          "x": {"datum": 5.0, "type": "quantitative", "scale": {"domain": [-0.2125, 115.5375], "nice": false, "zero": false},
                "axis": {"values": [0, 8, 16, 24, 32, 40, 48, 56, 64, 72, 80, 88], "labelExpr": "['14 Jan 2026','15 Jan 20:00','19 Jan 00:00','20 Jan 08:00','21 Jan 16:00','23 Jan 00:00','26 Jan 04:00','27 Jan 12:00','28 Jan 20:00','30 Jan 04:00','2 Feb 08:00','3 Feb 16:00'][round(datum.value / 8)]", "labelAlign": "left", "labelPadding": 3, "tickSize": 4, "domain": false, "grid": false, "title": null, "labelOverlap": false, "labelBound": false}},
          "y": {"datum": -2.0, "type": "quantitative", "scale": {"domain": [0, 100], "nice": false, "zero": false},
                "axis": {"orient": "right", "values": [0, 5, 10, 90, 95, 100], "title": null, "grid": true, "gridDash": [3, 3], "gridColor": "#c4c4c4", "domain": false, "tickSize": 3, "labelPadding": 2, "labelOverlap": false, "labelBound": false}},
          "text": {"value": "instaforex"}
        }
      },
      {
        "data": {"name": "one"},
        "mark": {"type": "text", "color": "#ffffff", "fontSize": 11, "align": "left", "baseline": "middle", "clip": false},
        "encoding": {
          "x": {"datum": 5.4, "type": "quantitative", "scale": {"domain": [-0.2125, 115.5375], "nice": false, "zero": false},
                "axis": {"values": [0, 8, 16, 24, 32, 40, 48, 56, 64, 72, 80, 88], "labelExpr": "['14 Jan 2026','15 Jan 20:00','19 Jan 00:00','20 Jan 08:00','21 Jan 16:00','23 Jan 00:00','26 Jan 04:00','27 Jan 12:00','28 Jan 20:00','30 Jan 04:00','2 Feb 08:00','3 Feb 16:00'][round(datum.value / 8)]", "labelAlign": "left", "labelPadding": 3, "tickSize": 4, "domain": false, "grid": false, "title": null, "labelOverlap": false, "labelBound": false}},
          "y": {"datum": -8.3, "type": "quantitative", "scale": {"domain": [0, 100], "nice": false, "zero": false},
                "axis": {"orient": "right", "values": [0, 5, 10, 90, 95, 100], "title": null, "grid": true, "gridDash": [3, 3], "gridColor": "#c4c4c4", "domain": false, "tickSize": 3, "labelPadding": 2, "labelOverlap": false, "labelBound": false}},
          "text": {"value": "Instant Forex Trading"}
        }
      }
    ]
  }
]
}
